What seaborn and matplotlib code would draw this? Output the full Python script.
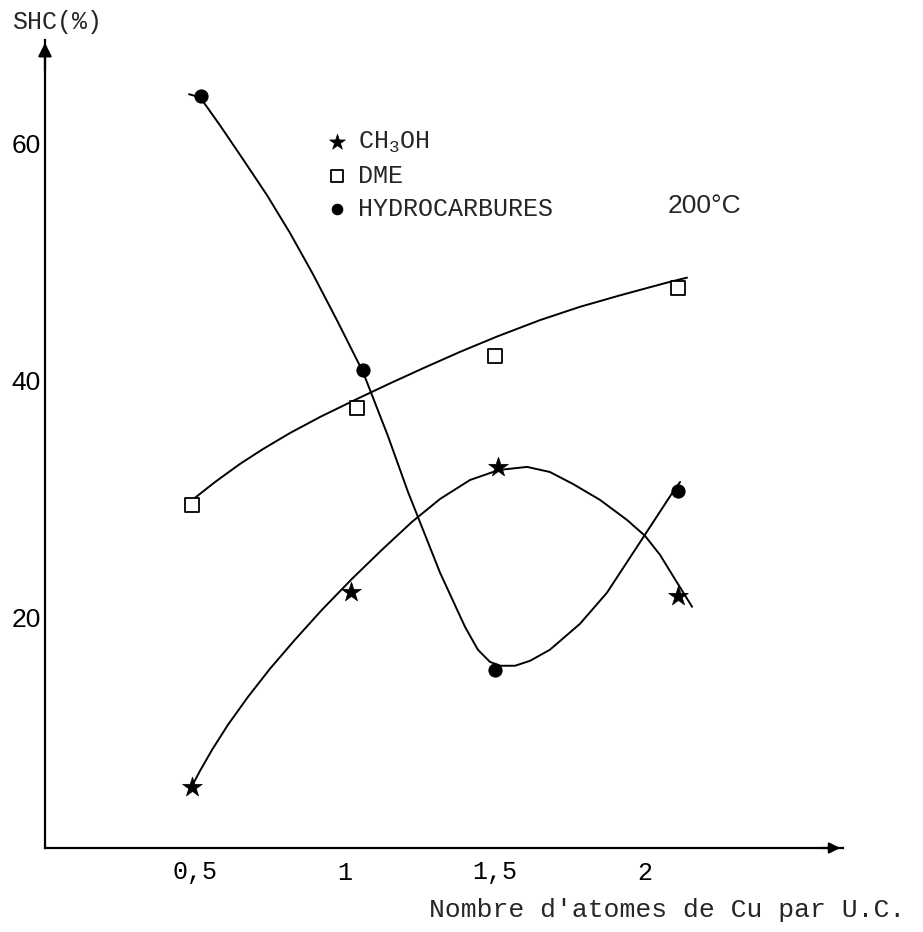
import matplotlib
matplotlib.use("Agg")
import matplotlib.pyplot as plt
import seaborn as sns

x_ch3oh = [0.49, 1.02, 1.51, 2.11]
shc_ch3oh = [5.7, 22.2, 32.7, 21.8]

x_dme = [0.49, 1.04, 1.50, 2.11]
shc_dme = [29.5, 37.7, 42.1, 47.8]

x_hc = [0.52, 1.06, 1.50, 2.11]
shc_hc = [64.0, 40.9, 15.6, 30.7]

# courbes tracees a la main sur l'original, relevees le long du trait
trait_x_ch3oh = [0.487, 0.517, 0.557, 0.610, 0.677, 0.750, 0.833, 0.923, 1.023, 1.123,
                 1.223, 1.317, 1.417, 1.513, 1.607, 1.683, 1.760, 1.850, 1.940, 2.000,
                 2.050, 2.093, 2.157]
trait_y_ch3oh = [5.68, 7.12, 8.88, 10.99, 13.35, 15.71, 18.15, 20.67, 23.28, 25.73,
                 28.08, 30.02, 31.62, 32.46, 32.72, 32.29, 31.28, 29.94, 28.25, 26.91,
                 25.31, 23.54, 20.93]

trait_x_dme = [0.470, 0.567, 0.650, 0.727, 0.817, 0.917, 1.037, 1.150, 1.267, 1.383,
               1.507, 1.650, 1.783, 1.917, 2.073, 2.140]
trait_y_dme = [29.52, 31.45, 32.97, 34.23, 35.58, 36.93, 38.41, 39.76, 41.11, 42.41,
               43.71, 45.09, 46.21, 47.18, 48.25, 48.67]

trait_x_hc = [0.480, 0.517, 0.583, 0.660, 0.740, 0.817, 0.893, 0.973, 1.060, 1.143,
              1.210, 1.317, 1.400, 1.443, 1.483, 1.517, 1.567, 1.617, 1.683, 1.783,
              1.873, 1.993, 2.093, 2.117]
trait_y_hc = [64.13, 63.87, 61.52, 58.65, 55.62, 52.42, 48.97, 45.09, 40.72, 35.33,
              30.61, 23.79, 19.24, 17.31, 16.29, 15.96, 15.96, 16.38, 17.31, 19.49,
              22.11, 26.74, 30.61, 31.45]

xticks = [0.5, 1, 1.5, 2, 2.5]
xtick_labels = ["0,5", "1", "1,5", "2", ""]
yticks = [20, 40, 60]
ytick_labels = ["20", "40", "60"]

sns.set_style("white")
plt.rcParams['font.family'] = ['Liberation Mono', 'DejaVu Sans']

W, H = 923, 932
fig = plt.figure(figsize=(W / 100, H / 100), dpi=100)
ax = fig.add_axes([45 / W, (H - 848) / H, 798 / W, (848 - 40) / H])

for tx, ty in [(trait_x_ch3oh, trait_y_ch3oh), (trait_x_dme, trait_y_dme),
               (trait_x_hc, trait_y_hc)]:
    sns.lineplot(x=tx, y=ty, sort=False, estimator=None, color='black', lw=1.4,
                 ax=ax, solid_joinstyle='round')

sns.scatterplot(x=x_ch3oh, y=shc_ch3oh, marker='*', s=220, color='black',
                edgecolor='black', linewidth=0.5, zorder=3, ax=ax,
                label=r'CH$\mathregular{_3}$OH')
sns.scatterplot(x=x_dme, y=shc_dme, marker='s', s=110, color='white',
                edgecolor='black', linewidth=1.3, zorder=3, ax=ax, label='DME')
sns.scatterplot(x=x_hc, y=shc_hc, marker='o', s=90, color='black',
                edgecolor='black', zorder=3, ax=ax, label='HYDROCARBURES')

ax.set_xlim(0, 2.66)
ax.set_ylim(0.6, 68.7)
ax.set_xlabel('')
ax.set_ylabel('')

ax.set_xticks(xticks)
ax.set_xticklabels(xtick_labels, fontfamily='Liberation Mono', fontsize=18)
ax.set_yticks(yticks)
ax.set_yticklabels(ytick_labels, fontfamily='Liberation Sans', fontsize=19)
ax.tick_params(axis='both', direction='in', length=7, width=1.3, colors='black')
ax.tick_params(axis='x', pad=9)
ax.tick_params(axis='y', pad=3)

sns.despine(ax=ax)
for s in ['left', 'bottom']:
    ax.spines[s].set_linewidth(1.6)
    ax.spines[s].set_color('black')

# fleches des axes
ax.annotate('', xy=(0, 1.0), xytext=(0, 0.96), xycoords='axes fraction',
            arrowprops=dict(arrowstyle='-|>', color='black', lw=1.6, mutation_scale=20))
ax.annotate('', xy=(1.0, 0), xytext=(0.97, 0), xycoords='axes fraction',
            arrowprops=dict(arrowstyle='-|>', color='black', lw=1.6, mutation_scale=16))

ax.legend(loc='upper left', bbox_to_anchor=(309 / W, 1 - 117 / H),
          bbox_transform=fig.transFigure, frameon=False,
          prop=dict(family='Liberation Mono', size=18),
          handletextpad=0.25, labelspacing=0.36, borderpad=0,
          handlelength=1.2, markerscale=0.8)

fig.text(668 / W, 1 - 206 / H, '200°C', family='Liberation Sans', fontsize=19,
         ha='left', va='center')
fig.text(12 / W, 1 - 22 / H, 'SHC(%)', family='Liberation Mono', fontsize=18,
         ha='left', va='center')
fig.text(905 / W, 1 - 910 / H, "Nombre d'atomes de Cu par U.C.",
         family='Liberation Mono', fontsize=19, ha='right', va='center')

fig.savefig('out.png', dpi=100, facecolor='white')
